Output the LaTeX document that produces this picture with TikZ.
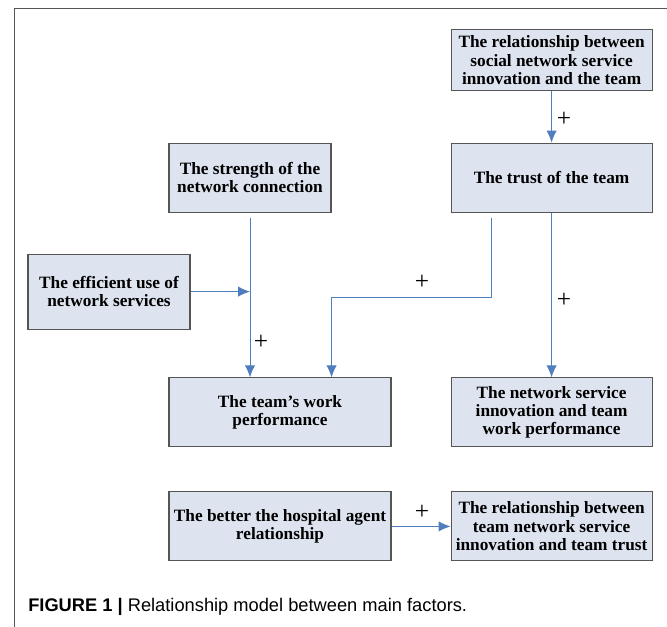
\documentclass[tikz,border=0pt]{standalone}
\usepackage{fontspec}
\setmainfont{Liberation Serif}
\newfontfamily\capfont{Liberation Sans}
\usetikzlibrary{arrows.meta,positioning,calc}
\definecolor{boxfill}{RGB}{221,228,239}
\definecolor{boxline}{RGB}{85,85,85}
\definecolor{linkblue}{RGB}{79,125,190}
\tikzset{
    box/.style={draw=boxline,fill=boxfill,line width=0.8pt,align=center,inner sep=1pt,
        font=\fontsize{12.3}{13.1}\selectfont\bfseries},
    arrow/.style={-{Latex[length=3mm,width=2.6mm]},draw=linkblue,line width=0.7pt},
    sign/.style={font=\fontsize{18}{18}\selectfont,inner sep=0pt}
}
\begin{document}
\begin{tikzpicture}
    \useasboundingbox (0,0) rectangle (16.675,-15.675);
    \draw[boxline,line width=0.6pt] (0.35,-15.675) -- (0.35,-0.2) -- (16.675,-0.2);
    % boxes
    \node[box,minimum width=5.025cm,minimum height=1.525cm] (rel) at (13.79,-1.51) {The relationship between\\social network service\\innovation and the team};
    \node[box,minimum width=5.025cm,minimum height=1.725cm] (trust) at (13.79,-4.44) {The trust of the team};
    \node[box,minimum width=4.05cm,minimum height=1.725cm] (strength) at (6.25,-4.44) {The strength of the\\network connection};
    \node[box,minimum width=4.05cm,minimum height=1.875cm] (use) at (2.725,-7.29) {The efficient use of\\network services};
    \node[box,minimum width=5.55cm,minimum height=1.725cm] (perf) at (7.0,-10.31) {The team's work\\performance};
    \node[box,minimum width=5.025cm,minimum height=1.725cm] (innov) at (13.79,-10.31) {The network service\\innovation and team\\work performance};
    \node[box,minimum width=5.55cm,minimum height=1.725cm] (agent) at (7.0,-13.16) {The better the hospital agent\\relationship};
    \node[box,minimum width=5.025cm,minimum height=1.725cm] (teamtrust) at (13.79,-13.16) {The relationship between\\team network service\\innovation and team trust};
    % links
    \coordinate (sfrom) at ($(strength.south)+(0,-0.125)$);
    \coordinate (tfrom) at ($(trust.south)+(-1.5,-0.125)$);
    \coordinate (tbend) at (tfrom |- 0,-7.425);
    \draw[arrow] (rel) -- (trust);
    \draw[arrow] (sfrom) -- (sfrom |- perf.north);
    \draw[arrow] (use.east) -- (use.east -| sfrom);
    \draw[arrow] (tfrom) -- (tbend) -| ($(strength.east |- perf.north)$);
    \draw[arrow] (trust) -- (innov);
    \draw[arrow] (agent) -- (teamtrust);
    % signs
    \node[sign] (s1) at (14.1,-2.975) {+};
    \node[sign] (s2) at (6.525,-8.55) {+};
    \node[sign] (s3) at (10.55,-7.05) {+};
    \node[sign] (s4) at (14.1,-7.5) {+};
    \node[sign] (s5) at (10.55,-12.8) {+};
    % caption
    \node[anchor=west,inner sep=0pt,font=\capfont\fontsize{13}{14}\selectfont] (cap) at (0.7,-15.175) {\textbf{FIGURE 1 |} Relationship model between main factors.};
\end{tikzpicture}
\end{document}
